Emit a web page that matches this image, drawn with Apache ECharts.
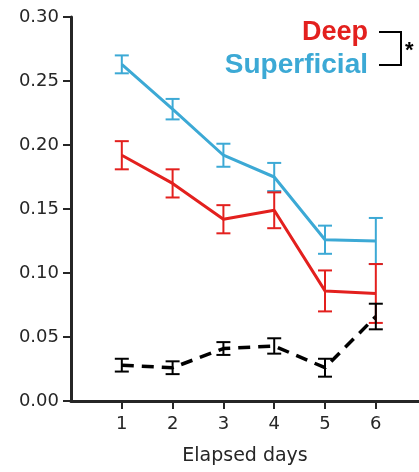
<!DOCTYPE html>
<html>
<head>
<meta charset="utf-8">
<script src="https://cdn.jsdelivr.net/npm/echarts@6/dist/echarts.min.js"></script>
<style>
  html, body { margin: 0; padding: 0; background: #fff; }
  #chart { width: 419px; height: 472px; }
</style>
</head>
<body>
<div id="chart"></div>
<script>
const days = [1, 2, 3, 4, 5, 6]
const yTicks = [0, 0.05, 0.10, 0.15, 0.20, 0.25, 0.30]

const superMean = [0.263, 0.228, 0.192, 0.175, 0.126, 0.125]
const superErr  = [0.007, 0.008, 0.009, 0.011, 0.011, 0.018]
const deepMean  = [0.192, 0.170, 0.142, 0.149, 0.086, 0.084]
const deepErr   = [0.011, 0.011, 0.011, 0.014, 0.016, 0.023]
const ctrlMean  = [0.028, 0.026, 0.041, 0.043, 0.026, 0.066]
const ctrlErr   = [0.005, 0.005, 0.005, 0.006, 0.007, 0.010]

const RED = '#e3201e'
const BLUE = '#3ca9d5'
const INK = '#262626'

function lineData(mean) {
  return days.map((d, i) => [d, mean[i]])
}
function errData(mean, err) {
  return days.map((d, i) => [d, mean[i] - err[i], mean[i] + err[i]])
}

function errorSeries(mean, err, color) {
  return {
    type: 'custom',
    data: errData(mean, err),
    encode: { x: 0, y: [1, 2] },
    z: 3,
    clip: false,
    renderItem: (params, api) => {
      const x = api.value(0)
      const lo = api.coord([x, api.value(1)])
      const hi = api.coord([x, api.value(2)])
      const half = 7
      const style = { stroke: color, lineWidth: 2 }
      return {
        type: 'group',
        children: [
          { type: 'line', shape: { x1: lo[0], y1: lo[1], x2: hi[0], y2: hi[1] }, style },
          { type: 'line', shape: { x1: lo[0] - half, y1: lo[1], x2: lo[0] + half, y2: lo[1] }, style },
          { type: 'line', shape: { x1: hi[0] - half, y1: hi[1], x2: hi[0] + half, y2: hi[1] }, style }
        ]
      }
    }
  }
}

const chart = echarts.init(document.getElementById('chart'))

chart.setOption({
  animation: false,
  grid: { left: 71, right: 0, top: 17, bottom: 71 },
  xAxis: {
    type: 'value',
    min: 0,
    max: 6.85,
    name: 'Elapsed days',
    nameLocation: 'middle',
    nameGap: 46,
    nameTextStyle: { fontFamily: 'DejaVu Sans', fontSize: 19, color: INK },
    splitLine: { show: false },
    axisLine: { lineStyle: { color: INK, width: 3 } },
    axisTick: { customValues: days, length: 8, lineStyle: { color: INK, width: 2 } },
    axisLabel: {
      customValues: days,
      margin: 14,
      fontFamily: 'DejaVu Sans', fontSize: 18, color: INK
    }
  },
  yAxis: {
    type: 'value',
    min: 0,
    max: 0.30,
    interval: 0.05,
    splitLine: { show: false },
    axisLine: { show: true, lineStyle: { color: INK, width: 3 } },
    axisTick: { show: true, length: 8, lineStyle: { color: INK, width: 2 } },
    axisLabel: {
      margin: 12,
      fontFamily: 'DejaVu Sans', fontSize: 18, color: INK,
      formatter: v => v.toFixed(2)
    }
  },
  graphic: [
    {
      type: 'text', right: 51, top: 19,
      style: { text: 'Deep', fill: RED, font: 'bold 27px "Liberation Sans"', textAlign: 'right' }
    },
    {
      type: 'text', right: 51, top: 51,
      style: { text: 'Superficial', fill: BLUE, font: 'bold 28px "Liberation Sans"', textAlign: 'right' }
    },
    {
      type: 'polyline',
      shape: { points: [[379, 32], [401, 32], [401, 65], [379, 65]] },
      style: { stroke: '#000', lineWidth: 2, fill: null }
    },
    {
      type: 'text', left: 405, top: 40,
      style: { text: '*', fill: '#000', font: 'bold 22px "Liberation Sans"' }
    }
  ],
  series: [
    {
      type: 'line', data: lineData(superMean), showSymbol: false, z: 2,
      lineStyle: { color: BLUE, width: 3 }
    },
    {
      type: 'line', data: lineData(deepMean), showSymbol: false, z: 2,
      lineStyle: { color: RED, width: 3 }
    },
    {
      type: 'line', data: lineData(ctrlMean), showSymbol: false, z: 2,
      lineStyle: { color: '#000', width: 3.5, type: [12, 8] }
    },
    errorSeries(superMean, superErr, BLUE),
    errorSeries(deepMean, deepErr, RED),
    errorSeries(ctrlMean, ctrlErr, '#000')
  ]
})
</script>
</body>
</html>
